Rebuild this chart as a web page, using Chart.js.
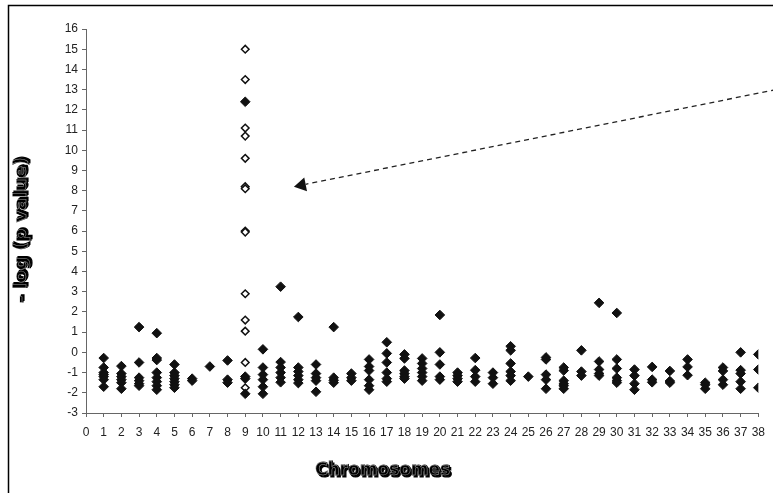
<!DOCTYPE html>
<html>
<head>
<meta charset="utf-8">
<script src="https://cdn.jsdelivr.net/npm/chart.js@4"></script>
<style>
  html, body { margin: 0; padding: 0; background: #fff; }
  #wrap { width: 773px; height: 493px; position: relative; }
</style>
</head>
<body>
<div id="wrap"><canvas id="chart" width="773" height="493"></canvas></div>
<script>
// chromosome numbers on the x axis
const chromosomes = [1, 2, 3, 4, 5, 6, 7, 8, 9, 10, 11, 12, 13, 14, 15, 16, 17, 18, 19,
  20, 21, 22, 23, 24, 25, 26, 27, 28, 29, 30, 31, 32, 33, 34, 35, 36, 37, 38];

// -log(p) of the filled markers, one list per chromosome (same order as above)
const filledValues = [
  [-0.28, -0.75, -1.0, -1.1, -1.2, -1.35, -1.7],
  [-0.68, -1.05, -1.2, -1.35, -1.5, -1.8],
  [1.25, -0.5, -1.25, -1.4, -1.55, -1.65],
  [0.95, -0.28, -0.38, -1.0, -1.25, -1.45, -1.65, -1.85],
  [-0.6, -1.0, -1.15, -1.3, -1.45, -1.6, -1.75],
  [-1.3, -1.4],
  [-0.7],
  [-0.4, -1.35, -1.5],
  [12.4, -1.2, -1.3, -2.05],
  [0.15, -0.75, -1.1, -1.35, -1.7, -2.05],
  [3.25, -0.48, -0.75, -1.0, -1.25, -1.48],
  [1.75, -0.75, -0.95, -1.15, -1.35, -1.52],
  [-0.6, -1.05, -1.25, -1.4, -1.95],
  [1.25, -1.25, -1.38, -1.5],
  [-1.05, -1.25, -1.4],
  [-0.35, -0.7, -0.9, -1.35, -1.65, -1.85],
  [0.5, -0.05, -0.5, -1.0, -1.3, -1.45],
  [-0.1, -0.3, -0.9, -1.05, -1.2, -1.3],
  [-0.3, -0.55, -0.8, -1.0, -1.2, -1.4],
  [1.85, 0.0, -0.6, -1.2, -1.35],
  [-1.0, -1.15, -1.3, -1.45],
  [-0.28, -0.88, -1.2, -1.45],
  [-1.0, -1.25, -1.55],
  [0.3, 0.1, -0.55, -0.95, -1.15, -1.4],
  [-1.2],
  [-0.25, -0.35, -1.1, -1.35, -1.8],
  [-0.75, -0.9, -1.4, -1.55, -1.65, -1.8],
  [0.1, -0.95, -1.15],
  [2.45, -0.45, -0.85, -1.05, -1.15],
  [1.95, -0.35, -0.8, -1.25, -1.4, -1.5],
  [-0.85, -1.15, -1.55, -1.85],
  [-0.72, -1.35, -1.48],
  [-0.92, -1.42, -1.5],
  [-0.35, -0.72, -1.13],
  [-1.5, -1.6, -1.8],
  [-0.75, -0.92, -1.35, -1.6],
  [0.0, -0.88, -1.05, -1.45, -1.8],
  [-0.1, -0.85, -1.75]
];

// open markers, all on chromosome 9
const openChromosome = 9;
const openValues = [15, 13.5, 11.1, 10.7, 9.6, 8.2, 8.1, 6.0, 5.95, 2.9, 1.6, 1.05, -0.5, -1.75];

// dashed arrow, in data units: [chromosome, -log p]
const arrowFrom = [39, 13.0];
const arrowTo = [11.75, 8.2];

const xTitle = "Chromosomes";
const yTitle = "- log (p value)";

const filledPoints = [];
chromosomes.forEach((c, i) => {
  filledValues[i].forEach((v) => filledPoints.push({ x: c, y: v }));
});
const openPoints = openValues.map((v) => ({ x: openChromosome, y: v }));

const INK = "#111";
const AXIS = "#666";

const framePlugin = {
  id: "frame",
  beforeDraw(chart) {
    const ctx = chart.ctx;
    ctx.save();
    ctx.fillStyle = "#fff";
    ctx.fillRect(0, 0, chart.width, chart.height);
    ctx.strokeStyle = "#000";
    ctx.lineWidth = 1.5;
    ctx.beginPath();
    ctx.moveTo(8.5, chart.height + 2);
    ctx.lineTo(8.5, 5.5);
    ctx.lineTo(chart.width + 2, 5.5);
    ctx.stroke();
    ctx.restore();
  },
  afterDraw(chart) {
    const ctx = chart.ctx;
    const xs = chart.scales.x, ys = chart.scales.y;

    // arrow
    const x1 = xs.getPixelForValue(arrowFrom[0]), y1 = ys.getPixelForValue(arrowFrom[1]);
    const x2 = xs.getPixelForValue(arrowTo[0]), y2 = ys.getPixelForValue(arrowTo[1]);
    const ang = Math.atan2(y2 - y1, x2 - x1);
    const headLen = 12, headW = 7;
    const bx = x2 - Math.cos(ang) * headLen, by = y2 - Math.sin(ang) * headLen;
    ctx.save();
    ctx.strokeStyle = "#222";
    ctx.lineWidth = 1.3;
    ctx.setLineDash([5, 4]);
    ctx.beginPath();
    ctx.moveTo(x1, y1);
    ctx.lineTo(bx, by);
    ctx.stroke();
    ctx.setLineDash([]);
    ctx.fillStyle = "#111";
    ctx.beginPath();
    ctx.moveTo(x2, y2);
    ctx.lineTo(bx + Math.sin(ang) * headW, by - Math.cos(ang) * headW);
    ctx.lineTo(bx - Math.sin(ang) * headW, by + Math.cos(ang) * headW);
    ctx.closePath();
    ctx.fill();
    ctx.restore();

    // axis titles with a heavy shadowed look
    const drawTitle = (text, x, y, rot, size) => {
      ctx.save();
      ctx.translate(x, y);
      if (rot) ctx.rotate(rot);
      ctx.font = "bold " + size + "px 'DejaVu Sans'";
      ctx.textAlign = "center";
      ctx.textBaseline = "middle";
      ctx.fillStyle = "#000";
      ctx.strokeStyle = "#000";
      ctx.lineWidth = 1.2;
      ctx.fillText(text, 1.5, 1.5);
      ctx.strokeText(text, 1.5, 1.5);
      ctx.fillText(text, 0, 0);
      ctx.strokeText(text, 0, 0);
      ctx.strokeStyle = "rgba(255,255,255,0.6)";
      ctx.lineWidth = 0.5;
      ctx.strokeText(text, -0.4, -0.4);
      ctx.restore();
    };
    drawTitle(xTitle, 383, 471, 0, 17);
    drawTitle(yTitle, 22, 230, -Math.PI / 2, 18.5);
  }
};

new Chart(document.getElementById("chart").getContext("2d"), {
  type: "scatter",
  data: {
    datasets: [
      {
        label: "filled",
        data: filledPoints,
        pointStyle: "rectRot",
        pointRadius: 4.8,
        backgroundColor: INK,
        borderColor: INK,
        borderWidth: 1,
      },
      {
        label: "open",
        data: openPoints,
        pointStyle: "rectRot",
        pointRadius: 3.8,
        backgroundColor: "#fff",
        borderColor: INK,
        borderWidth: 1.5,
      },
    ],
  },
  options: {
    responsive: false,
    animation: false,
    events: [],
    layout: { padding: { top: 29, right: 8, left: 0, bottom: 0 } },
    plugins: { legend: { display: false }, tooltip: { enabled: false } },
    scales: {
      x: {
        type: "linear",
        min: 0,
        max: 38,
        afterFit: (s) => { s.height = 80; },
        ticks: {
          stepSize: 1,
          autoSkip: false,
          maxRotation: 0,
          color: "#222",
          padding: 8,
          font: { family: "'Liberation Sans'", size: 12 },
        },
        grid: { drawOnChartArea: false, drawTicks: true, tickLength: 4, color: AXIS },
        border: { display: true, color: AXIS, width: 1 },
      },
      y: {
        min: -3,
        max: 16,
        afterFit: (s) => { s.width = 86; },
        ticks: {
          stepSize: 1,
          autoSkip: false,
          color: "#222",
          padding: 4,
          font: { family: "'Liberation Sans'", size: 12 },
        },
        grid: { drawOnChartArea: false, drawTicks: true, tickLength: 4, color: AXIS },
        border: { display: true, color: AXIS, width: 1 },
      },
    },
  },
  plugins: [framePlugin],
});
</script>
</body>
</html>
